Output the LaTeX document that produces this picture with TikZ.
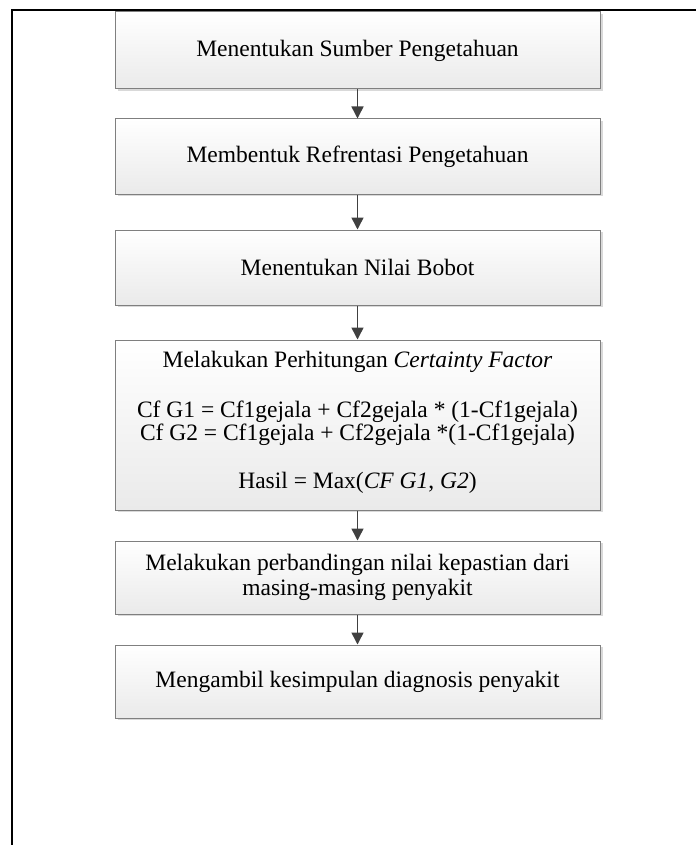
\documentclass[tikz,border=0pt]{standalone}
\usepackage{fontspec}
\setmainfont{Liberation Serif}
\usepackage{tikz}
\usetikzlibrary{arrows.meta,shadows}

\definecolor{boxline}{HTML}{7F7F7F}
\definecolor{boxfill}{HTML}{EAEAEA}
\definecolor{arrowgray}{HTML}{404040}

\tikzset{
    stepbox/.style={draw=boxline, line width=1pt, top color=white, bottom color=boxfill,
        minimum width=485pt, align=center, font=\fontsize{23.5}{21}\selectfont,
        drop shadow={shadow xshift=2.5pt, shadow yshift=-2pt, fill=black!25, opacity=0.6}},
    flow/.style={draw=arrowgray, line width=1.5pt, -{Triangle[width=12pt,length=12pt]}}
}

\begin{document}
\begin{tikzpicture}[x=1pt, y=-1pt]

    \useasboundingbox (0,0) rectangle (696,845);

    \draw[line width=2.3pt] (12,845) -- (12,10) -- (696,10);


    \node[stepbox, minimum height=77pt] (sumber) at (357.5,50.5) {Menentukan Sumber Pengetahuan};

    \node[stepbox, minimum height=75pt] (refrensi) at (357.5,156.5) {Membentuk Refrentasi Pengetahuan};

    \node[stepbox, minimum height=75pt] (bobot) at (357.5,267.5) {Menentukan Nilai Bobot};

    \node[stepbox, minimum height=170pt, text depth=10pt] (hitung) at (357.5,425) {Melakukan Perhitungan \textit{Certainty Factor}\\[28pt]
        Cf G1 = Cf1gejala + Cf2gejala * (1-Cf1gejala)\\
        Cf G2 = Cf1gejala + Cf2gejala *(1-Cf1gejala)\\[26pt]
        Hasil = Max(\textit{CF G1}, \textit{G2})};

    \node[stepbox, minimum height=73pt] (banding) at (357.5,577.5) {Melakukan perbandingan nilai kepastian dari\\[3pt] masing-masing penyakit};

    \node[stepbox, minimum height=73pt] (simpul) at (357.5,681.5) {Mengambil kesimpulan diagnosis penyakit};


    \draw[flow] (sumber) -- (refrensi);

    \draw[flow] (refrensi) -- (bobot);

    \draw[flow] (bobot) -- (hitung);

    \draw[flow] (hitung) -- (banding);

    \draw[flow] (banding) -- (simpul);

\end{tikzpicture}
\end{document}
